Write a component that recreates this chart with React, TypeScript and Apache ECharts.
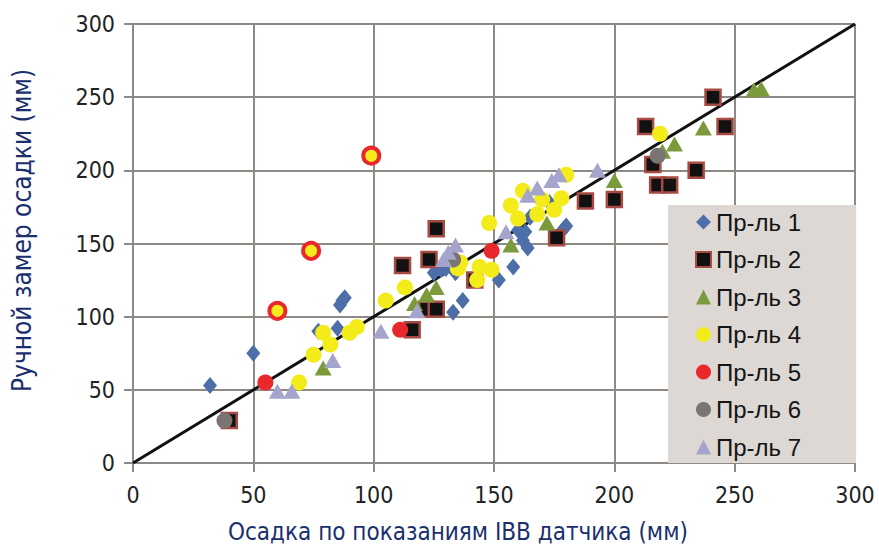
import React, { useEffect, useRef } from "react";
import * as echarts from "echarts";

const seriesNames = ["Пр-ль 1", "Пр-ль 2", "Пр-ль 3", "Пр-ль 4", "Пр-ль 5", "Пр-ль 6", "Пр-ль 7"];
const xTitle = "Осадка по показаниям IBB датчика (мм)";
const yTitle = "Ручной замер осадки (мм)";

const s1 = [[32, 53], [50, 75], [77, 90], [85, 92], [86, 108], [87, 111], [88, 113], [125, 130], [128, 132], [130, 133], [134, 130], [133, 103], [137, 111], [152, 125], [158, 134], [160, 159], [163, 158], [162, 152], [164, 147], [165, 168], [173, 178], [179, 160], [180, 162]];
const s2 = [[40, 29], [126, 160], [112, 135], [123, 139], [122, 105], [126, 105], [116, 91], [142, 125], [176, 154], [188, 179], [200, 180], [213, 230], [216, 204], [218, 190], [223, 190], [234, 200], [241, 250], [246, 230]];
const s3 = [[79, 65], [117, 109], [122, 115], [126, 120], [157, 149], [172, 164], [200, 193], [220, 213], [225, 218], [237, 229], [258, 255], [261, 256]];
const s4 = [[69, 55], [75, 74], [79, 89], [82, 81], [90, 89], [93, 93], [105, 111], [113, 120], [136, 137], [135, 133], [143, 125], [144, 134], [149, 132], [148, 164], [157, 176], [160, 167], [162, 186], [168, 170], [170, 180], [175, 173], [178, 181], [180, 197], [219, 225]];
const s5 = [[55, 55], [111, 91], [149, 145]];
const s5ringed = [[60, 104], [74, 145], [99, 210]];
const s6 = [[38, 29], [133, 139], [218, 210]];
const s7 = [[60, 49], [66, 49], [83, 70], [103, 90], [118, 104], [129, 139], [131, 144], [134, 149], [155, 158], [164, 183], [168, 188], [174, 193], [177, 197], [193, 200]];
const refLine = [[0, 0], [300, 300]];

export default function App() {
  const ref = useRef<HTMLDivElement>(null);
  useEffect(() => {
    const chart = echarts.init(ref.current!, null, { renderer: "svg" });
    const gridColor = "#8e8984";
    const labelFont = "'Liberation Sans Narrow', 'DejaVu Sans Condensed', 'Liberation Sans', sans-serif";
    const axisCommon = {
      type: "value" as const,
      min: 0,
      max: 300,
      interval: 50,
      axisLine: { show: true, onZero: false, lineStyle: { color: gridColor, width: 2 } },
      axisTick: { show: true, inside: false, length: 9, lineStyle: { color: gridColor, width: 2 } },
      splitLine: { show: true, lineStyle: { color: gridColor, width: 2 } },
      axisLabel: { color: "#222", fontSize: 23, fontFamily: labelFont },
    };
    const scatter = (name: string, data: any[], symbol: string, size: any, itemStyle: any) => ({
      name,
      type: "scatter",
      data,
      symbol,
      symbolSize: size,
      itemStyle,
      z: 3,
    });
    chart.setOption({
      animation: false,
      backgroundColor: "#ffffff",
      grid: { left: 133, right: 24, top: 24, bottom: 85, containLabel: false },
      xAxis: { ...axisCommon, axisLabel: { ...axisCommon.axisLabel, margin: 20 } },
      yAxis: { ...axisCommon, axisLabel: { ...axisCommon.axisLabel, margin: 18 } },
      legend: {
        orient: "vertical",
        left: 668,
        top: 205,
        data: seriesNames,
        backgroundColor: "#ddd8d3",
        padding: [5, 55, 4, 27],
        itemGap: 13.5,
        itemWidth: 15,
        itemHeight: 15,
        textStyle: { fontSize: 24, lineHeight: 24, color: "#151515", fontFamily: "'Liberation Sans', Arial, sans-serif" },
      },
      graphic: [
        {
          type: "text",
          left: 228,
          top: 520,
          style: { text: xTitle, fontSize: 24, fill: "#1a2f6e", fontFamily: labelFont },
        },
        {
          type: "text",
          x: 9,
          y: 392,
          rotation: Math.PI / 2,
          style: { text: yTitle, fontSize: 26, fill: "#1a2f6e", fontFamily: labelFont, textVerticalAlign: "top" },
        },
      ],
      series: [
        {
          name: "ref",
          type: "line",
          data: refLine,
          symbol: "none",
          lineStyle: { color: "#111", width: 3 },
          z: 2,
          silent: true,
        },
        scatter(seriesNames[0], s1, "diamond", [14, 17], { color: "#4d6ea8", opacity: 1 }),
        scatter(seriesNames[1], s2, "rect", 15, { color: "#111", borderColor: "#a84a44", borderWidth: 2.5, opacity: 1 }),
        scatter(seriesNames[2], s3, "triangle", [17, 15], { color: "#7a9a3c", opacity: 1 }),
        scatter(seriesNames[3], s4, "circle", 16, { color: "#f4ec1a", opacity: 1 }),
        scatter(
          seriesNames[4],
          [
            ...s5,
            ...s5ringed.map((p) => ({ value: p, itemStyle: { color: "#f4ec1a", borderColor: "#e8282a", borderWidth: 4 } })),
          ],
          "circle",
          16,
          { color: "#e8282a", opacity: 1 }
        ),
        scatter(seriesNames[5], s6, "circle", 16, { color: "#7a7472", opacity: 1 }),
        scatter(seriesNames[6], s7, "triangle", [17, 15], { color: "#a4a4cc", opacity: 1 }),
      ],
    });
    return () => chart.dispose();
  }, []);
  return <div ref={ref} style={{ width: 879, height: 548, position: "absolute", left: 0, top: 0 }} />;
}
